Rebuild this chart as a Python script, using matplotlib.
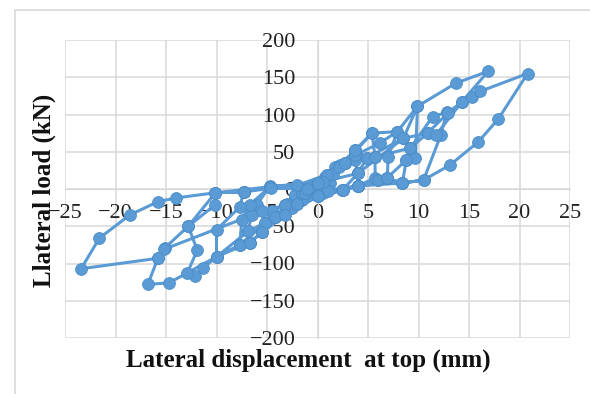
import matplotlib.pyplot as plt
from matplotlib.patches import Rectangle

# hysteresis path: displacement (mm), load (kN)
disp = [0, 0.7, 1.7, 1.2, 0.2, -1.2, -2.2, -3.2, -2.2, -1.0, 0,
        0.9, 2.7, 3.7, 4.0, 2.5, 0.5, -1.5, -3.0, -4.2, -3.0, -1.2, 0,
        1.5, 2.7, 3.7, 4.9, 4.0, 4.0, 2.4, 0, -2.5, -4.2, -5.2, -4.5, -3.2, -1.5, 0,
        2.2, 3.7, 5.4, 5.7, 5.7, 4.0, 1.0, -2.0, -4.2, -5.5, -6.9, -6.5, -6.0, -4.7, -2.0,
        0.9, 3.7, 6.2, 7.9, 7.0, 6.9, 6.0, 4.0, 0, -3.2, -5.5, -6.7, -7.7, -7.5, -6.7, -4.7, -0.4,
        2.1, 4.9, 8.5, 9.9, 9.7, 8.8, 8.4, 6.0, 2.5, -2.0, -5.2, -7.7, -10.0, -10.0, -7.7, -7.3, -4.7, 0,
        2.7, 5.7, 9.2, 11.4, 12.8, 12.2, 10.5, 8.4, 4.0, -1.2, -5.5, -6.7, -10.0, -11.3, -12.1,
        -12.9, -11.9, -12.8, -10.1, -10.1, -7.3, -4.7,
        0.5, 3.7, 5.4, 7.9, 9.9, 13.7, 16.9, 14.3, 12.9, 10.9, 9.2, 8.8, 6.9, 4.0, 0, -6.9,
        -10.0, -14.7, -16.8, -15.8, -15.1, -12.8, -10.1,
        -4.7, 0, 4.0, 8.5, 10.9, 11.7, 14.3, 15.3, 16.1, 20.8, 17.9, 15.9, 13.1, 10.5, 8.4,
        6.9, 4.0, 0, -5.5, -15.2, -15.8, -23.4, -21.6, -18.6, -15.8, -14.0, -10.1, -7.3, -4.6, -1.0]
load = [0, 16, 30, 8, -2, -6, -11, -21, -8, 0, 3,
        19, 35, 39, 21, -1, -5, -15, -25, -37, -20, -6, 2,
        20, 35, 52, 42, 21, 4, -1, -8, -25, -37, -46, -30, -21, -6, 3,
        32, 50, 75, 43, 15, 4, -3, -20, -37, -58, -57, -35, -21, 4, 5,
        19, 45, 62, 77, 43, 15, 12, 4, -10, -35, -58, -72, -75, -42, -21, 3, 3,
        30, 42, 68, 111, 42, 39, 8, 12, -1, -20, -46, -75, -91, -55, -24, -4, 3, 5,
        35, 43, 55, 97, 103, 72, 12, 8, 4, -6, -58, -72, -91, -106, -117,
        -113, -82, -50, -21, -5, -4, 3,
        10, 52, 75, 77, 111, 142, 158, 117, 102, 75, 55, 39, 15, 4, -10, -57,
        -91, -126, -128, -93, -79, -50, -5,
        3, 8, 21, 68, 75, 72, 117, 123, 131, 155, 94, 63, 32, 12, 8,
        15, 4, -10, -30, -81, -93, -107, -66, -35, -17, -12, -5, -4, 1, 0]

x_ticks = [-25, -20, -15, -10, -5, 0, 5, 10, 15, 20, 25]
y_ticks = [-200, -150, -100, -50, 0, 50, 100, 150, 200]

blue = '#5B9BD5'
grid_c = '#D9D9D9'
serif = ['Liberation Serif', 'DejaVu Serif']

fig = plt.figure(figsize=(5.9, 3.94), dpi=100)
fig.patches.append(Rectangle((15 / 590, -0.2), 1.2, 1.2 - 10 / 394,
                             transform=fig.transFigure, fill=False,
                             edgecolor=grid_c, lw=1.2))
ax = fig.add_axes([65 / 590, 1 - 338 / 394, 505 / 590, 298 / 394])

ax.plot(disp, load, '-o', color=blue, lw=2.2, markersize=8.5,
        markerfacecolor=blue, markeredgecolor='#4A8CC8', markeredgewidth=0.6, zorder=3)

ax.set_xlim(-25, 25)
ax.set_ylim(-200, 200)
ax.set_xticks(x_ticks)
ax.set_yticks(y_ticks)
ax.grid(True, color=grid_c, lw=1.1)
ax.set_axisbelow(True)

for s in ['top', 'right']:
    ax.spines[s].set_visible(False)
ax.spines['left'].set_position('zero')
ax.spines['bottom'].set_position('zero')
ax.spines['left'].set_color(grid_c)
ax.spines['bottom'].set_color(grid_c)
ax.tick_params(axis='both', length=0)
ax.tick_params(axis='x', pad=11)
ax.tick_params(axis='y', pad=16)
for lab in ax.get_xticklabels() + ax.get_yticklabels():
    lab.set_family(serif)
    lab.set_fontsize(16)
    lab.set_color('#222222')

fig.text(308 / 590, 1 - 360 / 394, 'Lateral displacement  at top (mm)', family=serif,
         fontsize=18, fontweight='bold', ha='center', va='center', color='#111111')
fig.text(44 / 590, 1 - 190 / 394, 'Llateral load (kN)', family=serif, rotation=90,
         fontsize=18, fontweight='bold', ha='center', va='center', color='#111111')

fig.savefig('out.png', dpi=100)
